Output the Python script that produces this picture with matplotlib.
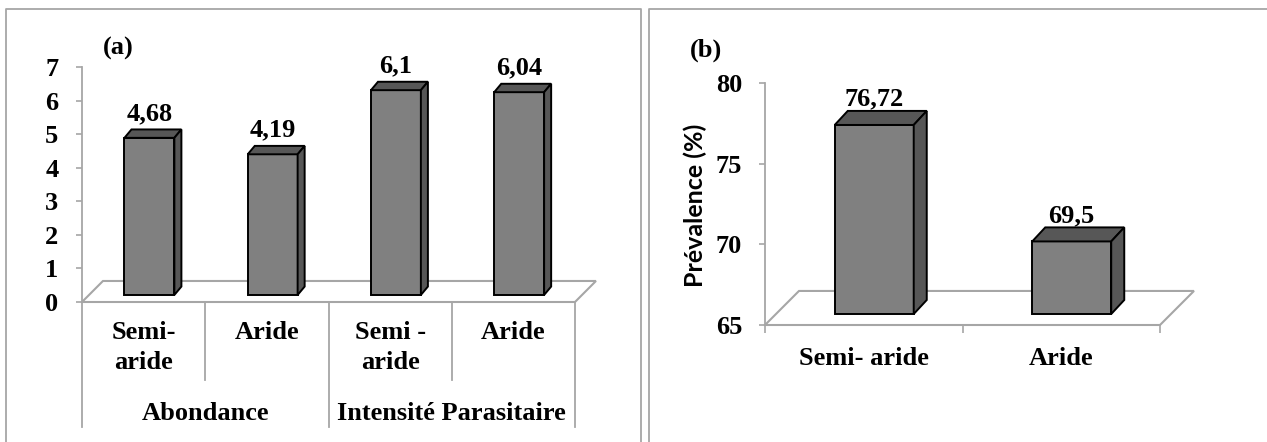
import matplotlib
matplotlib.use("Agg")
import matplotlib.pyplot as plt
from matplotlib.patches import Polygon
from matplotlib.lines import Line2D

# ---------------- data ----------------
cats_a = ["Semi-\naride", "Aride", "Semi -\naride", "Aride"]
groups_a = ["Abondance", "Intensité Parasitaire"]
values_a = [4.68, 4.19, 6.1, 6.04]
yticks_a = [0, 1, 2, 3, 4, 5, 6, 7]

cats_b = ["Semi- aride", "Aride"]
values_b = [76.72, 69.5]
yticks_b = [65, 70, 75, 80]
ylabel_b = "Prévalence (%)"


def fmt(v):
    return f"{v:g}".replace(".", ",")


W, H = 1267, 442
fig = plt.figure(figsize=(W / 100, H / 100), dpi=100)

SERIF = ["Liberation Serif", "DejaVu Serif"]
FS = 19
FRONT = "#808080"
DARK = "#575757"
GRID = "#a6a6a6"


def axes_px(x0, x1, ytop, ybot):
    return fig.add_axes([x0 / W, 1 - ybot / H, (x1 - x0) / W, (ybot - ytop) / H])


def bar3d(ax, xc, base, val, w, bdx, bdy):
    ax.bar([xc], [val], bottom=base, width=w, color=FRONT, edgecolor="black",
           linewidth=1.4, zorder=3)
    top = base + val
    xl, xr = xc - w / 2, xc + w / 2
    ax.add_patch(Polygon([(xl, top), (xr, top), (xr + bdx, top + bdy), (xl + bdx, top + bdy)],
                         closed=True, facecolor=DARK, edgecolor="black", lw=1.4, zorder=3,
                         clip_on=False))
    ax.add_patch(Polygon([(xr, base), (xr + bdx, base + bdy), (xr + bdx, top + bdy), (xr, top)],
                         closed=True, facecolor=DARK, edgecolor="black", lw=1.4, zorder=3,
                         clip_on=False))


def floor(ax, x0, x1, y0, fdx, fdy):
    ax.plot([x0, x1, x1 + fdx, x0 + fdx, x0], [y0, y0, y0 + fdy, y0 + fdy, y0],
            color=GRID, lw=1.5, zorder=1, clip_on=False, solid_joinstyle="miter")


def style_axes(ax):
    for s in ["top", "right", "bottom"]:
        ax.spines[s].set_visible(False)
    ax.spines["left"].set_color(GRID)
    ax.spines["left"].set_linewidth(1.3)
    ax.patch.set_alpha(0)


# ---------------- panel (a) ----------------
axa = axes_px(82, 575, 67, 302)
n = len(values_a)
axa.set_xlim(0, n)
axa.set_ylim(0, 7)
style_axes(axa)
axa.set_xticks([])
axa.set_yticks(yticks_a)
axa.set_yticklabels([str(t) for t in yticks_a], fontfamily=SERIF, fontweight="bold",
                    fontsize=FS)
axa.tick_params(axis="y", length=4, width=1.2, color=GRID, pad=13)

floor(axa, 0, n, 0, 0.17, 0.626)
base_a, w_a, bdx_a, bdy_a, shift_a = 0.21, 0.405, 0.057, 0.25, 0.047
for i, v in enumerate(values_a):
    xc = i + 0.5 + shift_a
    bar3d(axa, xc, base_a, v, w_a, bdx_a, bdy_a)
    axa.annotate(fmt(v), (xc, base_a + v + bdy_a), xytext=(0, 11.5),
                 textcoords="offset points", ha="center", va="center",
                 fontfamily=SERIF, fontweight="bold", fontsize=FS)

# category separators below the axis
ylo_inner = -(380 - 302) / 33.57
ylo_outer = -(427 - 302) / 33.57
for xi in range(n + 1):
    ylo = ylo_outer if xi % 2 == 0 else ylo_inner
    axa.plot([xi, xi], [0, ylo], color=GRID, lw=1.3, clip_on=False, zorder=1)

for i, c in enumerate(cats_a):
    axa.annotate(c, (i + 0.5, 0), xytext=(0, -14), textcoords="offset points",
                 ha="center", va="top", fontfamily=SERIF, fontweight="bold",
                 fontsize=FS, linespacing=1.38, annotation_clip=False)
for g, name in enumerate(groups_a):
    axa.annotate(name, (2 * g + 1, 0), xytext=(0, -80), textcoords="offset points",
                 ha="center", va="center", fontfamily=SERIF, fontweight="bold",
                 fontsize=FS, annotation_clip=False)

fig.text(118 / W, 1 - 48 / H, "(a)", ha="center", va="center", fontfamily=SERIF,
         fontweight="bold", fontsize=19)

# ---------------- panel (b) ----------------
axb = axes_px(765, 1160, 83, 325)
m = len(values_b)
axb.set_xlim(0, m)
axb.set_ylim(65, 80)
style_axes(axb)
axb.set_yticks(yticks_b)
axb.set_yticklabels([str(t) for t in yticks_b], fontfamily=SERIF, fontweight="bold",
                    fontsize=FS)
axb.tick_params(axis="y", length=4.5, width=1.2, color=GRID, pad=12)
axb.set_xticks(range(m + 1))
axb.set_xticklabels([""] * (m + 1))
axb.tick_params(axis="x", length=6, width=1.2, color=GRID, direction="out")

floor(axb, 0, m, 65, 0.172, 2.11)
base_b, w_b, bdx_b, bdy_b, shift_b = 65.68, 0.40, 0.066, 0.87, 0.053
for i, v in enumerate(values_b):
    xc = i + 0.5 + shift_b
    bar3d(axb, xc, base_b, v - 65, w_b, bdx_b, bdy_b)
    axb.annotate(fmt(v), (xc, base_b + (v - 65) + bdy_b), xytext=(0, 8.6),
                 textcoords="offset points", ha="center", va="center",
                 fontfamily=SERIF, fontweight="bold", fontsize=FS)

for i, c in enumerate(cats_b):
    axb.annotate(c, (i + 0.5, 65), xytext=(0, -24), textcoords="offset points",
                 ha="center", va="center", fontfamily=SERIF, fontweight="bold",
                 fontsize=FS, annotation_clip=False)

fig.text(695 / W, 1 - 205 / H, ylabel_b, rotation=90, ha="center", va="center",
         fontfamily=["Lato", "DejaVu Sans"], fontweight="bold", fontsize=18)
fig.text(706 / W, 1 - 50 / H, "(b)", ha="center", va="center", fontfamily=SERIF,
         fontweight="bold", fontsize=19)

# ---------------- panel frames ----------------
def fline(xs, ys):
    fig.add_artist(Line2D([x / W for x in xs], [1 - y / H for y in ys], color=GRID,
                          lw=1.3))

fline([6, 6, 641, 641], [460, 9, 9, 460])
fline([649, 649, 1280], [460, 9, 9])

fig.savefig("out.png", dpi=100)
